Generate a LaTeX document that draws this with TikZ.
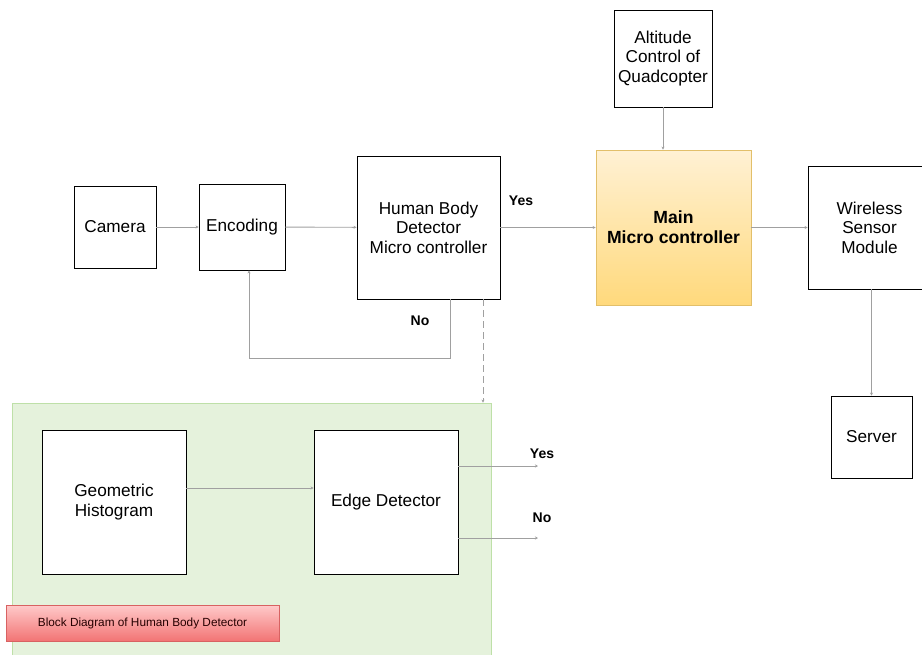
\documentclass[tikz,border=0pt]{standalone}
\usepackage{fontspec}
\setmainfont{Liberation Sans}
\usetikzlibrary{arrows.meta}
\definecolor{linegray}{HTML}{A0A0A0}
\definecolor{greenfill}{HTML}{E5F2DC}
\definecolor{greenedge}{HTML}{BEE0A8}
\definecolor{goldtop}{HTML}{FFF1D4}
\definecolor{goldbot}{HTML}{FFD97C}
\definecolor{goldedge}{HTML}{E2BF6A}
\definecolor{redtop}{HTML}{FFCACA}
\definecolor{redbot}{HTML}{F27474}
\definecolor{rededge}{HTML}{D86262}
\begin{document}
\begin{tikzpicture}[x=1pt,y=-1pt,
  blk/.style={draw=black, line width=0.9pt, fill=white, inner sep=0pt, align=center, font=\fontsize{17.2}{19.5}\selectfont},
  conn/.style={draw=linegray, line width=0.9pt, -{Stealth[length=3pt,width=3pt]}},
  lbl/.style={font=\bfseries\fontsize{14}{16}\selectfont}]
\useasboundingbox (0,0) rectangle (922,654);
\fill[white] (0,0) rectangle (922,654);
% green region
\node[draw=greenedge, fill=greenfill, line width=0.8pt, minimum width=479pt, minimum height=260pt, inner sep=0pt] (region) at (251.5,533) {};
% boxes
\node[blk, minimum width=82pt, minimum height=82pt] (camera) at (115,227) {Camera};
\node[blk, minimum width=86pt, minimum height=86pt] (enc) at (242,227) {Encoding};
\node[blk, minimum width=143pt, minimum height=143pt] (hbd) at (428.5,227.5) {Human Body\\Detector\\Micro controller};
\node[draw=goldedge, line width=0.8pt, top color=goldtop, bottom color=goldbot, minimum width=155pt, minimum height=155pt, inner sep=0pt, align=center, font=\bfseries\fontsize{17.6}{20}\selectfont] (main) at (673.5,227.5) {Main\\Micro controller};
\node[blk, minimum width=98pt, minimum height=97pt] (alt) at (663,58.5) {Altitude\\Control of\\Quadcopter};
\node[blk, minimum width=123pt, minimum height=123pt, text width=123pt, align=center] (wsm) at (869.5,227.5) {Wireless\\Sensor\\Module};
\node[blk, minimum width=81pt, minimum height=82pt] (server) at (871.5,437) {Server};
\node[blk, minimum width=144pt, minimum height=144pt] (geo) at (114,502) {Geometric\\Histogram};
\node[blk, minimum width=144pt, minimum height=144pt] (edge) at (386,502) {Edge Detector};
\node[draw=rededge, line width=0.8pt, top color=redtop, bottom color=redbot, minimum width=273pt, minimum height=36pt, inner sep=0pt, text=black!85!red, font=\fontsize{11.8}{14}\selectfont] (cap) at (142.5,623) {Block Diagram of Human Body Detector};
% connectors
\draw[conn] (camera) -- (enc);
\draw[conn] (enc) -- (hbd);
\draw[conn] (hbd) -- (main);
\draw[conn] (main) -- (wsm.west |- main.east);
\draw[conn] (alt) -- (main.north -| alt.south);
\draw[conn] (wsm.south -| server.north) -- (server);
\coordinate (fb1) at (450,358);
\coordinate (fb2) at (249,358);
\draw[conn] (hbd.south -| fb1) -- (fb1) -- (fb2) -- (enc.south -| fb2);
\draw[conn, dashed, dash pattern=on 7pt off 4pt] (483,299) -- (region.north -| 483,0);
\draw[conn] (geo.east |- 0,488) -- (edge.west |- 0,488);
\coordinate (yesend) at (538,466);
\coordinate (noend) at (538,538);
\draw[conn] (edge.east |- yesend) -- (yesend);
\draw[conn] (edge.east |- noend) -- (noend);
% labels
\node[lbl] (yes1) at (521,201) {Yes};
\node[lbl] (no1) at (420,321) {No};
\node[lbl] (yes2) at (542,454) {Yes};
\node[lbl] (no2) at (542,518) {No};
\end{tikzpicture}
\end{document}
